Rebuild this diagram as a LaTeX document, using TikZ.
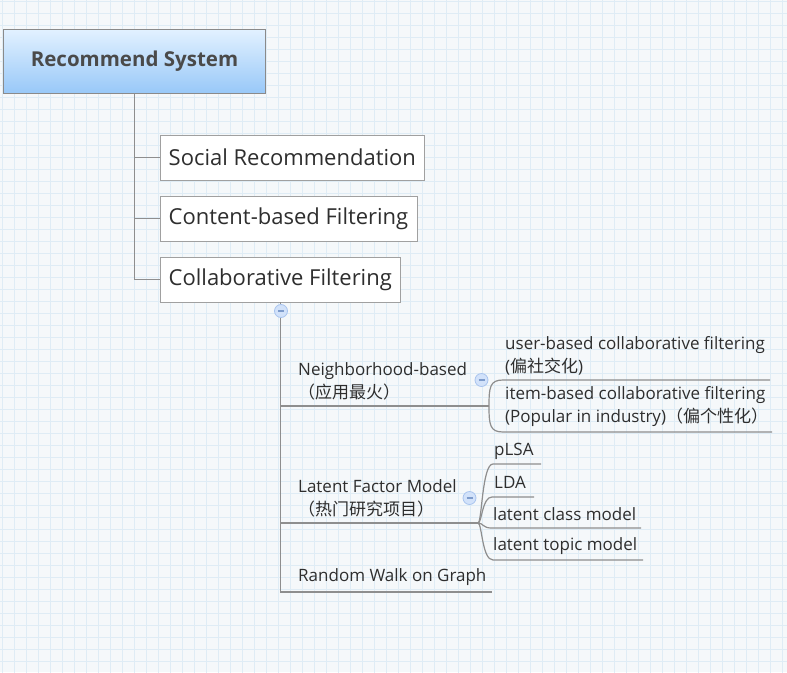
\documentclass[tikz,border=0pt]{standalone}
\usepackage{fontspec}
\setmainfont{Open Sans}
\newfontfamily\cjk{Noto Sans CJK SC}
\usetikzlibrary{positioning}

\definecolor{paper}{HTML}{F5F8FA}
\definecolor{gridblue}{HTML}{DFECF5}
\definecolor{roottop}{HTML}{E2F1FF}
\definecolor{rootbot}{HTML}{98C8F8}
\definecolor{rootline}{HTML}{8A8A8A}
\definecolor{boxline}{HTML}{A0A0A0}
\definecolor{linegray}{HTML}{8E8E8E}
\definecolor{titletext}{HTML}{4A4A4A}
\definecolor{txt}{HTML}{2E2E2E}
\definecolor{foldfill}{HTML}{D2E2FA}
\definecolor{foldline}{HTML}{A9C4EE}
\definecolor{foldmark}{HTML}{7E9CCC}

\begin{document}
\begin{tikzpicture}[x=1pt,y=-1pt,
  rootbox/.style={draw=rootline,top color=roottop,bottom color=rootbot,
    minimum width=262pt,minimum height=64pt,inner sep=0pt,
    font=\fontsize{20.5}{24}\selectfont\bfseries,text=titletext},
  mainbox/.style={draw=boxline,fill=white,anchor=west,minimum height=45pt,
    inner xsep=8.5pt,font=\fontsize{22}{26}\selectfont,text=txt},
  leaf/.style={anchor=base west,align=left,inner sep=0pt,
    font=\fontsize{17}{23}\selectfont,text=txt},
  link/.style={draw=linegray,line width=1.2pt},
  fold/.style={circle,draw=foldline,fill=foldfill,line width=0.8pt,
    minimum size=13pt,inner sep=0pt,text=foldmark}
]
  % ----- paper and grid -----
  \useasboundingbox (0,0) rectangle (787,672);
  \fill[paper] (0,0) rectangle (787,672);
  \begin{scope}
    \clip (0,0) rectangle (787,672);
    \draw[gridblue,line width=0.8pt,xshift=2pt,yshift=-1pt]
      (-12,-12) grid[step=12pt] (800,684);
  \end{scope}

  % ----- root and first level -----
  \node[rootbox] (root) at (134.5,61.5) {Recommend System};
  \node[mainbox] (social)  at (160,157.5) {Social Recommendation};
  \node[mainbox] (content) at (160,218.5) {Content-based Filtering};
  \node[mainbox] (collab)  at (160,279.5) {Collaborative Filtering};

  \draw[link] (root.south) |- (collab.west);
  \draw[link] (root.south |- social.west) -- (social.west);
  \draw[link] (root.south |- content.west) -- (content.west);

  % ----- second level (underlined topics) -----
  \node[leaf] (nb) at (298,398.5) {Neighborhood-based\\{\cjk （应用最火）}};
  \node[leaf] (lf) at (298,515.5) {Latent Factor Model\\{\cjk （热门研究项目）}};
  \node[leaf] (rw) at (298,581.5) {Random Walk on Graph};

  \coordinate (nbend) at (489,406);
  \coordinate (lfend) at (478,523);
  \coordinate (rwend) at (492,592);

  \draw[link] (collab.south) |- (rwend);
  \draw[link] (collab.south |- nbend) -- (nbend);
  \draw[link] (collab.south |- lfend) -- (lfend);

  % ----- neighborhood children -----
  \node[leaf] (ub) at (505,372) {user-based collaborative filtering\\({\cjk 偏社交化})};
  \node[leaf] (ib) at (505,422.5) {item-based collaborative filtering\\(Popular in industry){\cjk （偏个性化）}};

  \coordinate (ubend) at (770,380);
  \coordinate (ibend) at (772,432);
  \draw[link] (nbend) .. controls (489,387) and (490,380) .. (503,380) -- (ubend);
  \draw[link] (nbend) .. controls (489,425) and (490,432) .. (503,432) -- (ibend);

  % ----- latent factor children -----
  \node[leaf] (plsa) at (494,455)   {pLSA};
  \node[leaf] (lda)  at (494,488.5) {LDA};
  \node[leaf] (lcm)  at (493,520.5) {latent class model};
  \node[leaf] (ltm)  at (493,550.5) {latent topic model};

  \coordinate (plsaend) at (541,464);
  \coordinate (ldaend)  at (534,497);
  \coordinate (lcmend)  at (641,528);
  \coordinate (ltmend)  at (643,560);
  \draw[link] (lfend) .. controls (482,523) and (482,464) .. (493,464) -- (plsaend);
  \draw[link] (lfend) .. controls (482,523) and (482,497) .. (492,497) -- (ldaend);
  \draw[link] (lfend) .. controls (483,523) and (483,528) .. (491,528) -- (lcmend);
  \draw[link] (lfend) .. controls (482,523) and (482,560) .. (493,560) -- (ltmend);

  % ----- fold markers -----
  \node[fold] (foldcf) at (281,311)   {\rule{6pt}{1.2pt}};
  \node[fold] (foldnb) at (481.5,380) {\rule{6pt}{1.2pt}};
  \node[fold] (foldlf) at (469.5,498) {\rule{6pt}{1.2pt}};
\end{tikzpicture}
\end{document}
